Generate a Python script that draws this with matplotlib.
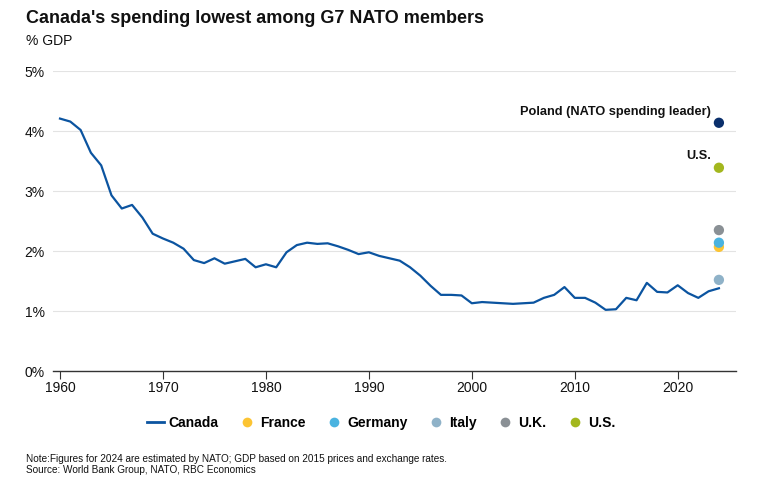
import matplotlib

matplotlib.use('Agg')
import matplotlib.pyplot as plt
from matplotlib.lines import Line2D

plt.rcParams['font.family'] = ['Liberation Sans', 'DejaVu Sans']

years = list(range(1960, 2025))
canada = [4.21, 4.16, 4.02, 3.64, 3.43, 2.93, 2.71, 2.77, 2.56, 2.29,
          2.21, 2.14, 2.04, 1.85, 1.80, 1.88, 1.79, 1.83, 1.87, 1.73,
          1.78, 1.73, 1.98, 2.10, 2.14, 2.12, 2.13, 2.08, 2.02, 1.95,
          1.98, 1.92, 1.88, 1.84, 1.73, 1.59, 1.42, 1.27, 1.27, 1.26,
          1.13, 1.15, 1.14, 1.13, 1.12, 1.13, 1.14, 1.22, 1.27, 1.40,
          1.22, 1.22, 1.14, 1.02, 1.03, 1.22, 1.18, 1.47, 1.32, 1.31,
          1.43, 1.30, 1.22, 1.33, 1.38]

# 2024 estimates by NATO
dot_year = 2024
countries = ['France', 'Germany', 'Italy', 'U.K.', 'U.S.', 'Poland']
dot_values = [2.07, 2.14, 1.52, 2.35, 3.39, 4.14]
dot_colors = ['#fcc433', '#4ab3e0', '#8fb2c8', '#8a9095', '#a3b71e', '#0a2f6b']
canada_color = '#0b54a0'

fig = plt.figure(figsize=(7.75, 4.98), dpi=100)
ax = fig.add_axes([0.0688, 0.255, 0.881, 0.602])

ax.plot(years, canada, color=canada_color, lw=1.6, zorder=3)
for name, val, col in zip(countries, dot_values, dot_colors):
    ax.scatter([dot_year], [val], s=55, color=col, zorder=4, clip_on=False,
               edgecolors='none')

ax.text(dot_year - 0.8, dot_values[5] + 0.18, 'Poland (NATO spending leader)',
        ha='right', va='center', fontsize=9.2, fontweight='bold', color='#111111')
ax.text(dot_year - 0.8, dot_values[4] + 0.2, 'U.S.',
        ha='right', va='center', fontsize=9.2, fontweight='bold', color='#111111')

ax.set_xlim(1959.35, 2025.67)
ax.set_ylim(0, 5)
ax.set_xticks(range(1960, 2021, 10))
ax.set_yticks(range(0, 6))
ax.set_yticklabels([f'{v}%' for v in range(0, 6)])
ax.grid(axis='y', color='#e3e3e3', lw=0.8)
ax.set_axisbelow(True)
for s in ['top', 'right', 'left']:
    ax.spines[s].set_visible(False)
ax.spines['bottom'].set_color('#333333')
ax.spines['bottom'].set_linewidth(1.0)
ax.tick_params(axis='y', length=0, pad=6, labelsize=10, labelcolor='#111111')
ax.tick_params(axis='x', length=6, width=0.8, color='#333333', pad=1,
               labelsize=10, labelcolor='#111111')

fig.text(0.034, 0.963, "Canada's spending lowest among G7 NATO members",
         fontsize=13, fontweight='bold', va='center', color='#111111')
fig.text(0.034, 0.918, '% GDP', fontsize=10, va='center', color='#111111')

handles = [Line2D([0], [0], color=canada_color, lw=2)]
labels = ['Canada']
for name, col in zip(countries[:5], dot_colors[:5]):
    handles.append(Line2D([0], [0], marker='o', ls='none', color=col,
                          markersize=7, markeredgecolor='none'))
    labels.append(name)
fig.legend(handles, labels, loc='center', bbox_to_anchor=(0.492, 0.151),
           ncol=6, frameon=False, handlelength=1.2, handletextpad=0.35,
           columnspacing=1.45, prop={'weight': 'bold', 'size': 10})

fig.text(0.034, 0.078, 'Note:Figures for 2024 are estimated by NATO; GDP based on 2015 prices and exchange rates.',
         fontsize=7.2, va='center', color='#111111')
fig.text(0.034, 0.056, 'Source: World Bank Group, NATO, RBC Economics',
         fontsize=7.2, va='center', color='#111111')

fig.savefig('out.png', dpi=100)
